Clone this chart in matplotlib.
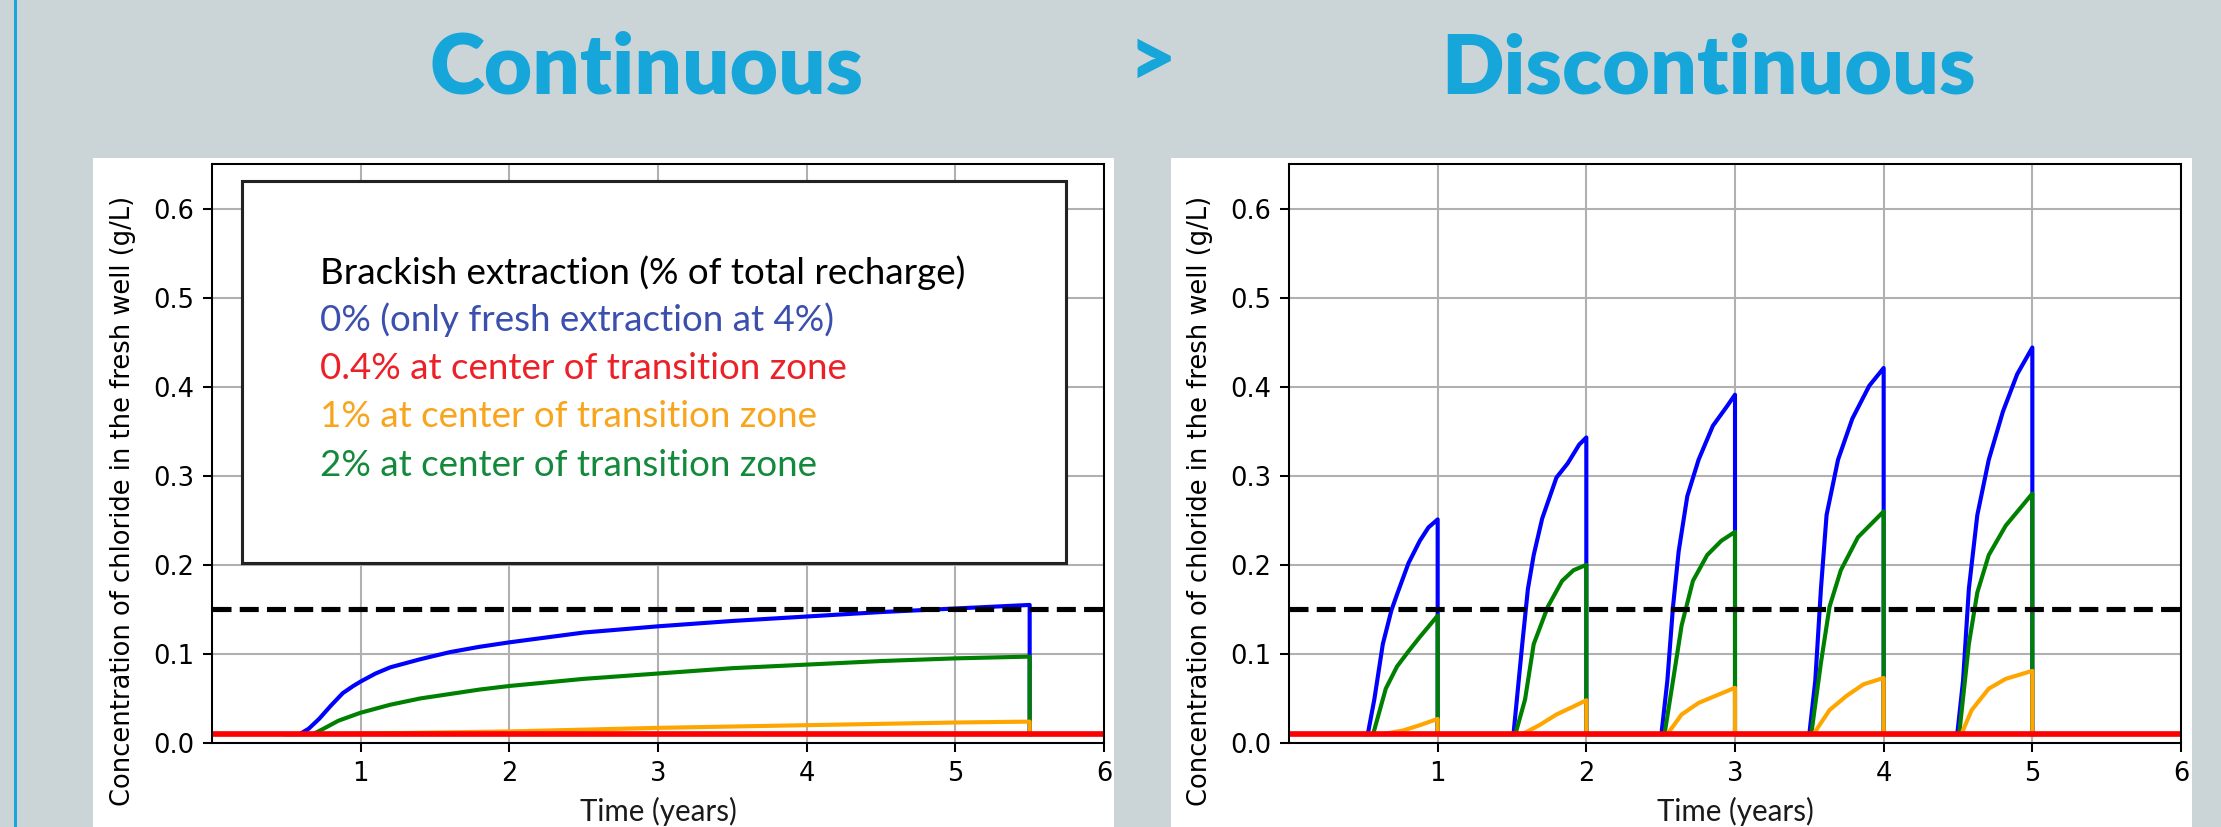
import matplotlib
matplotlib.use("Agg")
import matplotlib.pyplot as plt
from matplotlib.patches import Rectangle

# ---------------- data ----------------
ylabel_text = "Concentration of chloride in the fresh well (g/L)"
xlabel_text = "Time (years)"
title_left = "Continuous"
title_mid = ">"
title_right = "Discontinuous"
legend_title = "Brackish extraction (% of total recharge)"
legend_lines = ["0% (only fresh extraction at 4%)",
                "0.4% at center of transition zone",
                "1% at center of transition zone",
                "2% at center of transition zone"]
yticks = [0.0, 0.1, 0.2, 0.3, 0.4, 0.5, 0.6]
xticks = [1, 2, 3, 4, 5, 6]
threshold = 0.15
base_level = 0.01

# Continuous scenario
cont_t_blue = [0.50, 0.59, 0.65, 0.72, 0.80, 0.88, 0.95, 1.0, 1.1, 1.2, 1.4, 1.6, 1.8, 2.0,
               2.5, 3.0, 3.5, 4.0, 4.5, 5.0, 5.5, 5.5]
cont_c_blue = [0.01, 0.01, 0.016, 0.027, 0.042, 0.056, 0.064, 0.069, 0.078, 0.085, 0.094, 0.102,
               0.108, 0.113, 0.124, 0.131, 0.137, 0.142, 0.147, 0.151, 0.155, 0.01]
cont_t_green = [0.50, 0.68, 0.75, 0.85, 1.0, 1.2, 1.4, 1.6, 1.8, 2.0, 2.5, 3.0, 3.5, 4.0, 4.5,
                5.0, 5.5, 5.5]
cont_c_green = [0.01, 0.01, 0.016, 0.025, 0.034, 0.043, 0.050, 0.055, 0.060, 0.064, 0.072,
                0.078, 0.084, 0.088, 0.092, 0.095, 0.097, 0.01]
cont_t_orange = [0.50, 0.80, 2.0, 3.0, 4.0, 5.0, 5.5, 5.5]
cont_c_orange = [0.01, 0.01, 0.013, 0.017, 0.020, 0.023, 0.024, 0.01]
red_t = [0.0, 6.0]
red_c = [0.01, 0.01]

# Discontinuous scenario: rising part of each yearly cycle (time, conc)
disc_blue_t = [[0.53, 0.574, 0.631, 0.689, 0.727, 0.804, 0.880, 0.938, 1.0],
               [1.51, 1.569, 1.607, 1.646, 1.703, 1.799, 1.875, 1.952, 2.0],
               [2.505, 2.545, 2.583, 2.621, 2.679, 2.755, 2.851, 2.946, 3.0],
               [3.50, 3.54, 3.578, 3.616, 3.693, 3.789, 3.903, 4.0],
               [4.495, 4.534, 4.573, 4.630, 4.707, 4.802, 4.898, 5.0]]
disc_blue_c = [[0.010, 0.049, 0.111, 0.149, 0.167, 0.202, 0.227, 0.242, 0.251],
               [0.010, 0.111, 0.173, 0.211, 0.252, 0.298, 0.314, 0.335, 0.343],
               [0.010, 0.070, 0.153, 0.215, 0.277, 0.318, 0.356, 0.378, 0.391],
               [0.010, 0.070, 0.173, 0.256, 0.318, 0.364, 0.401, 0.421],
               [0.010, 0.070, 0.173, 0.256, 0.318, 0.372, 0.414, 0.444]]
disc_green_t = [[0.566, 0.651, 0.727, 0.804, 0.880, 1.0],
                [1.523, 1.588, 1.646, 1.741, 1.837, 1.914, 2.0],
                [2.526, 2.583, 2.641, 2.717, 2.813, 2.908, 3.0],
                [3.513, 3.578, 3.636, 3.712, 3.827, 4.0],
                [4.508, 4.573, 4.630, 4.707, 4.821, 5.0]]
disc_green_c = [[0.010, 0.061, 0.086, 0.103, 0.119, 0.143],
                [0.010, 0.049, 0.111, 0.153, 0.182, 0.194, 0.200],
                [0.010, 0.070, 0.132, 0.182, 0.211, 0.227, 0.237],
                [0.010, 0.090, 0.153, 0.194, 0.231, 0.260],
                [0.010, 0.111, 0.169, 0.211, 0.244, 0.280]]
disc_orange_t = [[0.63, 0.765, 0.88, 1.0],
                 [1.569, 1.684, 1.799, 1.914, 2.0],
                 [2.545, 2.641, 2.755, 2.870, 3.0],
                 [3.528, 3.636, 3.751, 3.865, 4.0],
                 [4.523, 4.592, 4.707, 4.821, 5.0]]
disc_orange_c = [[0.010, 0.014, 0.020, 0.027],
                 [0.010, 0.020, 0.032, 0.041, 0.048],
                 [0.010, 0.032, 0.045, 0.053, 0.062],
                 [0.010, 0.037, 0.053, 0.066, 0.073],
                 [0.010, 0.037, 0.061, 0.072, 0.081]]


def cycles_to_line(ts, cs):
    t_all, c_all = [0.5], [base_level]
    for t, c in zip(ts, cs):
        t_all += list(t) + [t[-1]]
        c_all += list(c) + [base_level]
    return t_all, c_all


# ---------------- figure ----------------
DPI = 185
W, H = 2221, 827
fig = plt.figure(figsize=(W / DPI, H / DPI), dpi=DPI)
bg = "#cbd5d8"
title_col = "#17a6da"
fig.patch.set_facecolor(bg)


def fx(px):
    return px / W


def fy(py):
    return 1 - py / H


# left accent line
fig.add_artist(Rectangle((fx(14), 0), fx(3), 1, transform=fig.transFigure,
                         facecolor=title_col, edgecolor="none", zorder=-2))
# white panels
for x0, x1 in [(93, 1114), (1171, 2192)]:
    fig.add_artist(Rectangle((fx(x0), 0), fx(x1 - x0), fy(158), transform=fig.transFigure,
                             facecolor="white", edgecolor="none", zorder=-1))

gill = "Lato"
fig.text(fx(646), fy(93), title_left, ha="center", va="baseline", fontsize=32.5,
         fontweight="heavy", color=title_col, family=gill)
fig.text(fx(1709), fy(93), title_right, ha="center", va="baseline", fontsize=32,
         fontweight="heavy", color=title_col, family=gill)
fig.text(fx(1152), fy(62), title_mid, ha="center", va="center", fontsize=32,
         fontweight="heavy", color=title_col, family=gill)

axw, axh = 892, 579
axes = []
for left in (212, 1289):
    ax = fig.add_axes([fx(left), fy(743), fx(axw), axh / H])
    ax.set_xlim(0, 6)
    ax.set_ylim(0, 0.65)
    ax.set_xticks(xticks)
    ax.set_yticks(yticks)
    ax.set_yticklabels([f"{v:.1f}" for v in yticks])
    ax.set_xticklabels([str(v) for v in xticks])
    ax.grid(True, color="#b0b0b0", linewidth=0.8)
    ax.set_axisbelow(True)
    ax.set_ylabel(ylabel_text, fontsize=10)
    ax.yaxis.set_label_coords(-0.085, 0.418)
    ax.tick_params(labelsize=10)
    axes.append(ax)

axL, axR = axes

lw = 1.6
axL.plot(cont_t_blue, cont_c_blue, color="blue", lw=lw)
axL.plot(cont_t_green, cont_c_green, color="green", lw=lw)
axL.plot(cont_t_orange, cont_c_orange, color="orange", lw=lw)
axL.axhline(threshold, color="black", ls="--", lw=2)
axL.plot(red_t, red_c, color="red", lw=2.2)

for ts, cs, col in [(disc_blue_t, disc_blue_c, "blue"),
                    (disc_green_t, disc_green_c, "green"),
                    (disc_orange_t, disc_orange_c, "orange")]:
    t_all, c_all = cycles_to_line(ts, cs)
    axR.plot(t_all, c_all, color=col, lw=lw)
axR.axhline(threshold, color="black", ls="--", lw=2)
axR.plot(red_t, red_c, color="red", lw=2.2)

# x labels (slide font)
for cx in (212 + axw / 2, 1289 + axw / 2):
    fig.text(fx(cx), fy(821), xlabel_text, ha="center", va="baseline",
             fontsize=11.5, family=gill, color="#1a1a1a")

# legend-like box on left chart
fig.add_artist(Rectangle((fx(242), fy(563)), fx(1066 - 242), (563 - 181) / H,
                         transform=fig.transFigure, facecolor="white",
                         edgecolor="#222222", linewidth=1.2, zorder=2))
text_cols = ["black", "#3b4fae", "#ec2027", "#f8a51d", "#12893b"]
texts = [legend_title] + legend_lines
baselines = [284, 331, 379, 427, 476]
for txt, col, by in zip(texts, text_cols, baselines):
    fig.text(fx(320), fy(by), txt, ha="left", va="baseline", fontsize=14.3,
             family=gill, color=col, zorder=3)

fig.savefig("out.png", dpi=DPI, facecolor=bg)
